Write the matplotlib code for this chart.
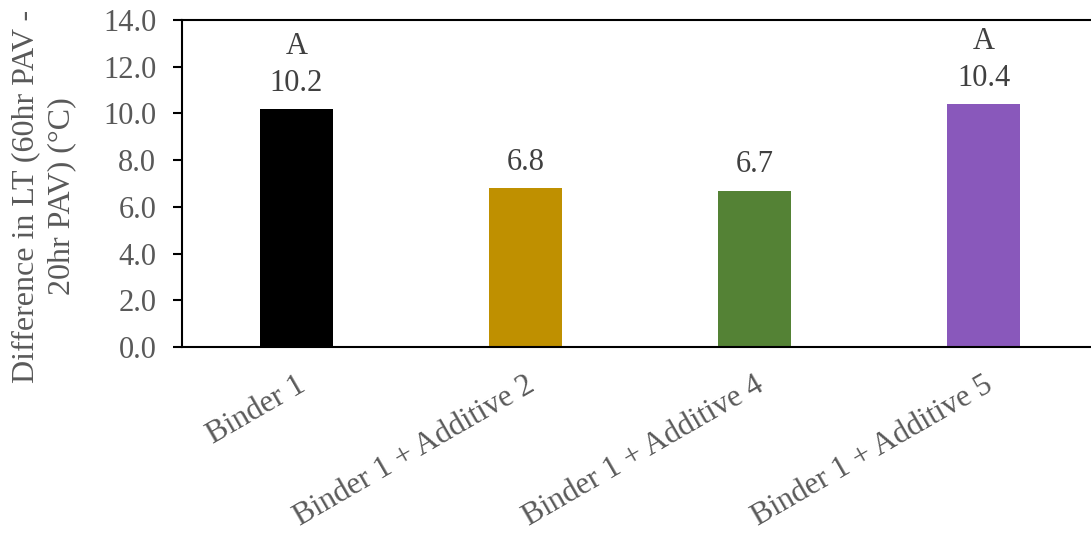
import matplotlib
matplotlib.use("Agg")
import matplotlib.pyplot as plt

# data
categories = ["Binder 1", "Binder 1 + Additive 2", "Binder 1 + Additive 4", "Binder 1 + Additive 5"]
values = [10.2, 6.8, 6.7, 10.4]
value_labels = ["10.2", "6.8", "6.7", "10.4"]
groups = ["A", "", "", "A"]
bar_colors = ["#000000", "#BF9000", "#548235", "#8958BB"]
y_ticks = [0, 2, 4, 6, 8, 10, 12, 14]

plt.rcParams['font.family'] = ['Liberation Serif', 'DejaVu Serif']
fs = 22

fig = plt.figure(figsize=(10.91, 5.33), dpi=100)
ax = fig.add_axes([182 / 1091, 1 - 347 / 533, 916 / 1091, 327 / 533])

x = range(len(categories))
ax.bar(x, values, width=0.315, color=bar_colors)

# value labels, with the group letter stacked on top where there is one
for xi, v, lab, g in zip(x, values, value_labels, groups):
    txt = lab if not g else g + "\n" + lab
    ax.annotate(txt, (xi, v), xytext=(0, 8), textcoords='offset points',
                ha='center', va='bottom', fontsize=fs, color='#404040',
                linespacing=1.35)

ax.set_xlim(-0.5, 3.5)
ax.set_ylim(0, 14)
ax.set_yticks(y_ticks)
ax.set_yticklabels([f"{t:.1f}" for t in y_ticks], fontsize=fs, color='#595959')
ax.set_xticks(list(x))
ax.set_xticklabels(categories, fontsize=22.5, color='#595959', rotation=30,
                   ha='right', va='top', rotation_mode='anchor')
ax.tick_params(axis='x', length=0, pad=17)
ax.tick_params(axis='y', length=6.5, width=1.5, direction='out', pad=12)

for side in ['left', 'bottom', 'top']:
    ax.spines[side].set_linewidth(1.5)
    ax.spines[side].set_color('black')
ax.spines['right'].set_visible(False)

fig.text(44 / 1091, 1 - 196 / 533, "Difference in LT (60hr PAV -\n20hr PAV) (°C)",
         rotation=90, ha='center', va='center', fontsize=23, color='#595959',
         linespacing=1.3)

fig.savefig("out.png", dpi=100)
plt.close(fig)
